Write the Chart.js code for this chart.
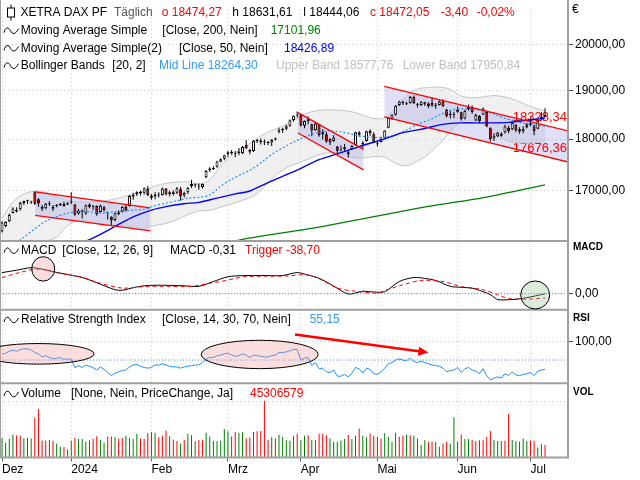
<!DOCTYPE html>
<html>
<head>
<meta charset="utf-8">
<title>XETRA DAX PF</title>
<script src="https://cdn.jsdelivr.net/npm/chart.js@4.4.1/dist/chart.umd.min.js"></script>
<style>
  html, body { margin: 0; padding: 0; background: #fff; }
  #dax { display: block; }
</style>
</head>
<body>
<canvas id="dax" width="640" height="480"></canvas>
<script>
// trading day index: 0 = 1 Dec 2023 ... 149 = 5 Jul 2024
const monthTickIdx = [0, 19, 41, 62, 82, 103, 125, 145];
const monthLabels = ['Dez', '2024', 'Feb', 'Mrz', 'Apr', 'Mai', 'Jun', 'Jul'];
const priceTicks = [17000, 18000, 19000, 20000];

const candleOpen = [16230,16330,16420,16570,16600,16640,16760,16790,16780,16960,16830,16690,16660,16750,16650,16700,16720,16740,16730,
  16781,16730,16560,16600,16560,16730,16690,16700,16590,16680,16580,16500,16440,16580,16600,16690,16700,16880,16930,16970,16950,17030,
  16900,16880,16900,16910,17030,16930,16960,16950,17020,16900,16960,17080,17100,17090,17060,17250,17390,17410,17450,17550,17610,
  17700,17740,17710,17750,17720,17880,17780,17760,17970,17970,17930,17920,17930,17990,18150,18180,18210,18270,18390,18480,
  18500,18270,18370,18300,18180,18300,18140,18100,18000,17960,17850,17790,17800,17700,17800,17880,18140,17900,17960,18170,18100,
  17900,17940,18010,18230,18420,18500,18700,18770,18730,18740,18870,18720,18700,18760,18730,18740,18680,18700,18780,18600,18490,18520,
  18560,18550,18420,18610,18660,18380,18470,18500,18560,18220,18010,18060,18110,18140,18230,18200,18290,18200,18160,18300,
  18320,18260,18210,18400,18474];
const candleHigh = [16420,16420,16560,16680,16680,16780,16800,16820,16800,16980,16850,16720,16760,16790,16720,16740,16760,16780,16770,
  16963,16740,16650,16640,16730,16750,16720,16710,16730,16700,16600,16510,16580,16620,16700,16740,16910,16950,16980,16990,17050,17080,
  16930,16960,16960,17050,17040,16990,17000,17060,17060,16970,17060,17200,17130,17130,17130,17390,17440,17460,17570,17620,17690,
  17760,17780,17760,17820,17860,17980,17800,17980,18000,18010,17990,17960,18000,18030,18230,18230,18290,18400,18480,18567,
  18510,18380,18460,18310,18330,18310,18200,18150,18020,18080,17860,17870,17900,17780,17880,18150,18160,17960,18170,18200,18140,
  17970,18050,18180,18440,18510,18700,18790,18790,18770,18890,18900,18740,18780,18770,18760,18860,18740,18800,18820,18620,18580,18560,
  18670,18560,18600,18710,18690,18520,18490,18650,18570,18240,18120,18150,18140,18290,18270,18340,18300,18240,18260,18330,
  18440,18290,18400,18550,18632];
const candleLow = [16215,16310,16400,16560,16580,16620,16720,16740,16740,16720,16690,16610,16640,16700,16610,16680,16700,16690,16720,
  16740,16520,16540,16470,16540,16660,16630,16520,16580,16600,16450,16345,16420,16530,16580,16600,16690,16820,16890,16900,16920,16890,
  16820,16830,16860,16900,16900,16880,16900,16930,16800,16860,16930,17040,17050,17010,17030,17230,17350,17390,17430,17540,17580,
  17650,17690,17640,17680,17700,17800,17700,17740,17920,17890,17880,17880,17860,17970,18120,18130,18180,18250,18360,18440,
  18250,18220,18300,18060,18170,18050,17990,17920,17880,17940,17700,17750,17740,17630,17780,17870,18050,17820,17950,18070,17920,
  17850,17930,18000,18220,18390,18480,18680,18700,18700,18730,18720,18650,18680,18680,18640,18660,18620,18690,18660,18440,18420,18430,
  18540,18380,18400,18580,18520,18370,18320,18490,18240,17950,17960,18040,18050,18110,18120,18180,18140,18110,18120,18220,
  18260,18080,18200,18380,18444];
const candleClose = [16397,16405,16533,16656,16629,16759,16794,16791,16766,16742,16751,16650,16744,16733,16688,16706,16742,16701,16752,
  16769,16538,16617,16594,16716,16688,16690,16547,16705,16622,16572,16432,16567,16555,16683,16627,16890,16907,16961,16942,17037,16904,
  16859,16918,16904,17033,16922,16963,16927,17037,16880,16946,17046,17117,17093,17068,17118,17370,17419,17423,17556,17601,17678,
  17735,17716,17698,17716,17842,17815,17746,17965,17961,17942,17936,17933,17987,18015,18179,18205,18261,18384,18477,18492,
  18283,18368,18403,18175,18318,18077,18097,17954,17930,18026,17767,17770,17837,17737,17860,18137,18089,17917,18161,18118,17932,
  17896,18001,18175,18430,18498,18686,18773,18742,18716,18869,18738,18704,18768,18727,18680,18691,18693,18775,18677,18473,18496,18498,
  18608,18406,18576,18653,18557,18494,18370,18630,18265,18002,18068,18131,18067,18254,18164,18326,18177,18155,18210,18235,
  18290,18164,18374,18450,18472];

// Bollinger Bands (20, 2) read at every third day
const bbIdx = [0,3,6,9,12,15,18,21,24,27,30,33,36,39,42,45,48,51,54,57,60,63,66,69,72,75,78,81,84,87,90,93,96,99,102,105,108,111,114,117,120,123,126,129,132,135,138,141,144,147,149];
const bbUpper = [16470,16780,16930,16980,16960,16880,16800,16775,16775,16790,16820,16870,16930,16990,17080,17130,17155,17160,17120,17200,
  17470,17680,17820,17960,18110,18200,18300,18430,18540,18590,18600,18590,18560,18490,18420,18430,18650,18900,19040,19070,
  19080,19030,18890,18850,18870,18900,18870,18800,18700,18620,18578];
const bbMid = [15880,15990,16130,16280,16420,16505,16570,16600,16598,16570,16585,16605,16625,16640,16710,16755,16800,16850,16865,16910,
  17075,17210,17315,17425,17585,17740,17865,17975,18070,18140,18165,18145,18100,18055,18035,18035,18085,18185,18300,18385,
  18490,18590,18620,18615,18585,18510,18425,18365,18310,18278,18264];
const bbLower = [16061,16061,16061,16061,16061,16130,16340,16430,16420,16350,16350,16340,16320,16290,16340,16380,16450,16540,16610,16620,
  16680,16740,16810,16890,17060,17280,17430,17520,17600,17690,17730,17700,17640,17620,17650,17640,17520,17470,17560,17700,
  17900,18150,18350,18380,18300,18120,17980,17930,17920,17935,17951];

const ma50Idx = [0,12,20,24,27,32,36,41,45,50,54,59,64,68,73,77,82,87,92,98,105,110,116,121,126,133,139,144,149];
const ma50Val = [15400,15800,15980,16085,16180,16360,16500,16625,16690,16745,16770,16850,16930,16985,17145,17265,17420,17590,17705,17850,
  18005,18130,18215,18300,18330,18330,18340,18385,18427];
const ma200Idx = [40, 66, 87, 115, 133, 149];
const ma200Val = [15700, 16090, 16310, 16670, 16870, 17102];

// trend channels drawn on the chart
const chanX1 = [9.1, 40.7], chanUp1 = [16967, 16668], chanLo1 = [16529, 16244];
const chanX2 = [81.2, 99.2], chanUp2 = [18542, 17794], chanLo2 = [18124, 17392];
const chanX3 = [104.9, 155.5], chanUp3 = [19094, 18163], chanLo3 = [18452, 17542];
const chanLabels = ['18328,34', '17676,36'];

// MACD (12, 26, 9)
const macdIdx = [0,4,8,11,14,18,22,26,31,33,36,39,42,46,50,54,58,62,66,69,73,77,81,84,87,91,95,99,102,105,109,113,116,119,123,126,129,131,134,136,139,142,146,149];
const macdVal = [193,215,238,225,202,175,148,100,36,31,55,72,77,76,72,67,111,155,165,166,166,166,193,170,141,70,-3,22,15,18,
  111,148,140,121,67,58,51,30,-9,-54,-55,-48,-23,-0.31];
const triggerIdx = [0,5,10,16,22,27,33,40,46,52,56,60,64,67,72,78,84,88,92,97,103,106,110,115,121,126,132,136,139,143,146,149];
const triggerVal = [147,195,225,186,150,95,51,67,67,67,90,111,140,157,160,162,171,120,51,22,6,40,81,121,111,65,36,-10,-45,-50,-48,-38.7];

// RSI (14)
const rsiVal = [80,81,84,86,84,87,88,88,86,82, 80,75,77,74,72,73,74,71,72,71, 58,61,58,62,60,58,54,59,55,50,
  45,49,51,53,54,59,62,63,60,58, 57,58,62,62,64,62,60,59,59,57, 59,60,61,62,62,66,72,74,74,77,
  78,80,81,78,76,77,80,78,74,78, 77,76,75,75,77,78,82,82,83,85, 87,87,70,73,74,61,66,56,57,51,
  50,54,44,44,47,43,49,58,56,49, 57,55,48,47,51,57,64,66,70,72, 70,69,73,68,66,68,66,64,62,61,
  60,57,51,53,54,58,50,56,58,54, 52,48,56,45,38,41,43,41,48,45, 51,46,45,47,48,50,45,52,54,55.15];

// volume in millions, colour by price change (g up / r down)
const volumeM = [71,54,67,83,81,79,69,71,69,144, 176,62,62,64,61,51,39,39,29,62, 71,67,67,58,62,67,77,64,54,76,
  76,74,68,71,79,71,67,86,69,67, 88,93,90,74,79,98,77,65,60,51, 64,86,81,60,64,64,90,76,60,60,
  61,104,95,76,93,90,92,70,73,93, 95,96,206,64,74,69,83,75,63,61, 79,86,64,79,81,64,64,86,86,81,
  69,57,57,62,67,83,67,79,105,79, 74,87,79,75,69,89,75,57,90,75, 79,83,81,79,69,45,63,57,57,57,
  39,51,57,50,146,57,84,67,67,64, 60,63,63,75,96,63,60,60,61,158, 64,60,57,69,60,62,61,36,48,45.31];
const volumeDir = ('ggggrrgrgr' + 'rrrgrggrgg' + 'rggggrrggr' + 'rgrrggggrr' + 'rrgrrrgrrg' +
  'rgggrrgggg' + 'gggrrggrrg' + 'rrrrgrgggg' + 'grggrggrrr' + 'gggggrgrrg' +
  'grrgrggggr' + 'rgrgrggrrg' + 'grrgggrggr' + 'rgrrrgggrr' + 'gggggrrggr').split('');

const levelSpan = [-0.55, 155.3];
const macdZero = [0, 0];
const rsiLevel = [70, 70];

// ---- annotations (panel marks) ----
const macdRings = [
  { i: 11.3, v: 227, rx: 11.5, ry: 12.2, fill: 'rgba(240,150,150,0.32)' },
  { i: 146.3, v: -12, rx: 14.5, ry: 14, fill: 'rgba(150,200,150,0.32)' }
];
const rsiRings = [
  { i: 9.9, v: 80, rx: 56, ry: 10.3, fill: 'rgba(240,150,150,0.32)' },
  { i: 70.7, v: 79, rx: 58.5, ry: 14.2, fill: 'rgba(240,150,150,0.32)' }
];
const rsiArrow = { from: [80.4, 111], to: [117, 82] };

const FAMILY = 'Liberation Sans';
const FONT = '"Liberation Sans", Arial, sans-serif';
const RED = '#ff0000';

const headerRows = [
  { y: 12.5, icon: 'candle', parts: [['XETRA DAX PF', 20.5, '#000'], ['Täglich', 114, '#555'], ['o 18474,27', 161.7, RED],
    ['h 18631,61', 232.3, '#000'], ['l 18444,06', 303.3, '#000'], ['c 18472,05', 370, RED], ['-3,40', 440.7, RED], ['-0,02%', 476.7, RED]] },
  { y: 30.7, icon: 'wave', parts: [['Moving Average Simple', 20.7, '#000'], ['[Close, 200, Nein]', 162.3, '#000'], ['17101,96', 270.7, '#008000']] },
  { y: 48.3, icon: 'wave', parts: [['Moving Average Simple(2)', 20.7, '#000'], ['[Close, 50, Nein]', 179, '#000'], ['18426,89', 284, '#0000ff']] },
  { y: 65.7, icon: 'wave', parts: [['Bollinger Bands', 20.7, '#000'], ['[20, 2]', 112.3, '#000'], ['Mid Line 18264,30', 159, '#3399ff'],
    ['Upper Band 18577,76', 276, '#c0c0c0'], ['Lower Band 17950,84', 402.7, '#c0c0c0']] },
  { y: 250.7, icon: 'wave', parts: [['MACD', 21, '#000'], ['[Close, 12, 26, 9]', 62.3, '#000'], ['MACD -0,31', 170, '#000'], ['Trigger -38,70', 245, RED]] },
  { y: 320, icon: 'wave', parts: [['Relative Strength Index', 21, '#000'], ['[Close, 14, 30, 70, Nein]', 162, '#000'], ['55,15', 309.7, '#3399ff']] },
  { y: 394, icon: 'wave', parts: [['Volume', 21, '#000'], ['[None, Nein, PriceChange, Ja]', 71, '#000'], ['45306579', 250, RED]] }
];
const sideLabels = [['€', 572, 9.5, '12px ' + FONT], ['MACD', 573, 247.5, 'bold 10px ' + FONT],
  ['RSI', 573, 318, 'bold 10px ' + FONT], ['VOL', 573, 392.5, 'bold 10px ' + FONT]];

const pts = (xs, ys) => xs.map((x, k) => ({ x: x, y: ys[k] }));
const fmt2 = v => Number(v).toFixed(2).replace('.', ',');

function waveIcon(c, y) {
  c.beginPath();
  c.moveTo(4, y + 2);
  c.bezierCurveTo(5.5, y - 4, 8.5, y - 4, 10.5, y);
  c.bezierCurveTo(12.5, y + 4, 15.5, y + 4, 18.5, y - 2);
  c.strokeStyle = '#000'; c.lineWidth = 1; c.stroke();
}
function candleIcon(c, y) {
  c.strokeStyle = '#000'; c.lineWidth = 1;
  c.strokeRect(7.5, y - 4.5, 7, 9);
  c.beginPath();
  c.moveTo(11, y - 8); c.lineTo(11, y - 4.5);
  c.moveTo(11, y + 4.5); c.lineTo(11, y + 8);
  c.stroke();
}

// keep every dataset inside its own panel
const clipToPanel = {
  id: 'clipToPanel',
  beforeDatasetDraw(chart, args) {
    const ys = args.meta.yScale, a = chart.chartArea, c = chart.ctx;
    c.save();
    c.beginPath();
    c.rect(a.left, ys.top, a.right - a.left, ys.bottom - ys.top);
    c.clip();
  },
  afterDatasetDraw(chart) { chart.ctx.restore(); }
};

const channelText = {
  id: 'channelText',
  beforeDatasetsDraw(chart) {
    const c = chart.ctx, y = chart.scales.yMain, r = chart.chartArea.right;
    c.save();
    c.font = '13px ' + FONT;
    c.fillStyle = RED;
    c.textAlign = 'right';
    c.textBaseline = 'middle';
    c.fillText(chanLabels[0], r - 1, y.getPixelForValue(chanUp3[1]) - 14);
    c.fillText(chanLabels[1], r - 1, y.getPixelForValue(chanLo3[1]) - 13.5);
    c.restore();
  }
};

const overlay = {
  id: 'overlay',
  afterDatasetsDraw(chart) {
    const c = chart.ctx, a = chart.chartArea, s = chart.scales;
    c.save();
    c.strokeStyle = '#a0a0a0';
    c.lineWidth = 2;
    c.beginPath();
    ['yMain', 'yMacd', 'yRsi', 'yVol'].forEach(id => {
      c.moveTo(0, s[id].bottom); c.lineTo(a.right + 1, s[id].bottom);
    });
    c.moveTo(a.right, 0); c.lineTo(a.right, s.yVol.bottom + 1);
    c.stroke();
    c.lineWidth = 1;
    c.beginPath(); c.moveTo(0.5, 0); c.lineTo(0.5, s.yVol.bottom); c.stroke();
    c.restore();
  },
  afterDraw(chart) {
    const c = chart.ctx, s = chart.scales, x = s.x;
    c.save();
    const ring = (scale, r) => {
      c.beginPath();
      c.ellipse(x.getPixelForValue(r.i), scale.getPixelForValue(r.v), r.rx, r.ry, 0, 0, Math.PI * 2);
      c.fillStyle = r.fill; c.fill();
      c.strokeStyle = '#000'; c.lineWidth = 1; c.stroke();
    };
    macdRings.forEach(r => ring(s.yMacd, r));
    rsiRings.forEach(r => ring(s.yRsi, r));

    const x0 = x.getPixelForValue(rsiArrow.from[0]), y0 = s.yRsi.getPixelForValue(rsiArrow.from[1]);
    const x1 = x.getPixelForValue(rsiArrow.to[0]), y1 = s.yRsi.getPixelForValue(rsiArrow.to[1]);
    const ang = Math.atan2(y1 - y0, x1 - x0);
    c.strokeStyle = RED; c.fillStyle = RED; c.lineWidth = 2.5;
    c.beginPath(); c.moveTo(x0, y0); c.lineTo(x1 - 6 * Math.cos(ang), y1 - 6 * Math.sin(ang)); c.stroke();
    c.beginPath();
    c.moveTo(x1, y1);
    c.lineTo(x1 - 10 * Math.cos(ang) + 4.5 * Math.sin(ang), y1 - 10 * Math.sin(ang) - 4.5 * Math.cos(ang));
    c.lineTo(x1 - 10 * Math.cos(ang) - 4.5 * Math.sin(ang), y1 - 10 * Math.sin(ang) + 4.5 * Math.cos(ang));
    c.closePath(); c.fill();

    c.font = '12px ' + FONT;
    c.textBaseline = 'middle';
    c.textAlign = 'left';
    headerRows.forEach(row => {
      if (row.icon === 'candle') candleIcon(c, row.y); else waveIcon(c, row.y);
      row.parts.forEach(p => { c.fillStyle = p[2]; c.fillText(p[0], p[1], row.y); });
    });
    sideLabels.forEach(l => { c.font = l[3]; c.fillStyle = '#000'; c.fillText(l[0], l[1], l[2]); });
    c.restore();
  }
};

const line = (xs, ys, axis, color, extra) => Object.assign({
  type: 'line', yAxisID: axis, data: pts(xs, ys), borderColor: color, borderWidth: 1,
  pointRadius: 0, fill: false, tension: 0, order: 3
}, extra || {});

const datasets = [
  line(bbIdx, bbUpper, 'yMain', '#c4c4c4', { fill: '+1', backgroundColor: 'rgba(205,205,205,0.3)', tension: 0.3, order: 9 }),
  line(bbIdx, bbLower, 'yMain', '#c4c4c4', { tension: 0.3, order: 9 }),
  line(chanX1, chanUp1, 'yMain', RED, { fill: '+1', backgroundColor: 'rgba(140,140,225,0.28)', borderWidth: 1.3, order: 1 }),
  line(chanX1, chanLo1, 'yMain', RED, { borderWidth: 1.3, order: 1 }),
  line(chanX2, chanUp2, 'yMain', RED, { fill: '+1', backgroundColor: 'rgba(140,140,225,0.28)', borderWidth: 1.3, order: 1 }),
  line(chanX2, chanLo2, 'yMain', RED, { borderWidth: 1.3, order: 1 }),
  line(chanX3, chanUp3, 'yMain', RED, { fill: '+1', backgroundColor: 'rgba(140,140,225,0.28)', borderWidth: 1.3, order: 1 }),
  line(chanX3, chanLo3, 'yMain', RED, { borderWidth: 1.3, order: 1 }),
  line(ma200Idx, ma200Val, 'yMain', '#008000', { borderWidth: 1.3, tension: 0.2 }),
  line(ma50Idx, ma50Val, 'yMain', '#0000ff', { borderWidth: 1.4, tension: 0.3 }),
  line(bbIdx, bbMid, 'yMain', '#1e90ff', { borderWidth: 1.2, borderDash: [2, 2], tension: 0.3 }),
  {
    type: 'bar', yAxisID: 'yMain', order: 6, grouped: false, barThickness: 1, inflateAmount: 0,
    data: candleClose.map((cl, i) => ({ x: i, y: [candleLow[i], candleHigh[i]] })),
    backgroundColor: '#000'
  },
  {
    type: 'bar', yAxisID: 'yMain', order: 5, grouped: false, barThickness: 3, minBarLength: 1, inflateAmount: 0,
    data: candleClose.map((cl, i) => ({ x: i, y: [candleOpen[i], cl] })),
    backgroundColor: candleClose.map((cl, i) => cl >= candleOpen[i] ? '#ffffff' : '#e00000'),
    borderColor: '#000', borderWidth: 1, borderSkipped: false
  },
  line(levelSpan, macdZero, 'yMacd', '#3c8cff', { borderDash: [1, 2] }),
  line(triggerIdx, triggerVal, 'yMacd', RED, { borderDash: [4, 3], tension: 0.3 }),
  line(macdIdx, macdVal, 'yMacd', '#000', { tension: 0.3 }),
  line(levelSpan, rsiLevel, 'yRsi', '#3c8cff', { borderDash: [1, 2] }),
  line(candleClose.map((c, i) => i), rsiVal, 'yRsi', '#1e90ff'),
  {
    type: 'bar', yAxisID: 'yVol', grouped: false, barThickness: 1, inflateAmount: 0,
    data: volumeM.map((v, i) => ({ x: i, y: v })),
    backgroundColor: volumeDir.map(d => d === 'g' ? '#008000' : '#ff0000')
  }
];

const gridStyle = { color: '#c8c8c8', lineWidth: 1, tickLength: 5, tickColor: '#444', tickBorderDash: [], offset: false };
const tickFont = { family: FAMILY, size: 12 };
const paneAxis = (weight, extra) => Object.assign({
  position: 'right', stack: 'panes', stackWeight: weight, beginAtZero: false,
  afterFit: s => { s.width = 72; },
  ticks: { color: '#000', font: tickFont, padding: 2, autoSkip: false },
  grid: gridStyle,
  border: { display: false, dash: [1, 3] }
}, extra);

new Chart(document.getElementById('dax'), {
  data: { datasets: datasets },
  options: {
    responsive: false,
    animation: false,
    devicePixelRatio: 1,
    events: [],
    layout: { padding: { top: 1, left: 0, right: 0, bottom: 0 } },
    plugins: {
      legend: { display: false },
      tooltip: { enabled: false },
      filler: { drawTime: 'beforeDatasetsDraw' }
    },
    scales: {
      x: {
        type: 'linear', min: levelSpan[0], max: levelSpan[1], offset: false,
        afterBuildTicks: s => { s.ticks = monthTickIdx.map(v => ({ value: v })); },
        afterFit: s => { s.height = 22.5; },
        ticks: { autoSkip: false, maxRotation: 0, align: 'start', padding: 1, color: '#000', font: tickFont,
          callback: (v, i) => monthLabels[i] },
        grid: { color: '#c8c8c8', lineWidth: 1, tickLength: 4, tickColor: '#666', tickBorderDash: [], offset: false },
        border: { display: false, dash: [1, 3] }
      },
      yMain: paneAxis(236, {
        type: 'logarithmic', min: 16061, max: 20817,
        afterBuildTicks: s => { s.ticks = priceTicks.map(v => ({ value: v })); },
        ticks: { color: '#000', font: tickFont, padding: 2, autoSkip: false, callback: v => fmt2(v) }
      }),
      yMacd: paneAxis(70, {
        type: 'linear', min: -147, max: 483,
        afterBuildTicks: s => { s.ticks = macdZero.slice(0, 1).map(v => ({ value: v })); },
        ticks: { color: '#000', font: tickFont, padding: 2, autoSkip: false, callback: v => fmt2(v) }
      }),
      yRsi: paneAxis(75, {
        type: 'linear', min: 32.5, max: 151,
        afterBuildTicks: s => { s.ticks = [{ value: 100 }]; },
        ticks: { color: '#000', font: tickFont, padding: 2, autoSkip: false, callback: v => fmt2(v) }
      }),
      yVol: paneAxis(75.5, {
        type: 'linear', min: 0, max: 269.5,
        afterBuildTicks: s => { s.ticks = [{ value: 205 }]; },
        ticks: { display: false },
        grid: Object.assign({}, gridStyle, { drawTicks: false })
      })
    }
  },
  plugins: [clipToPanel, channelText, overlay]
});
</script>
</body>
</html>
